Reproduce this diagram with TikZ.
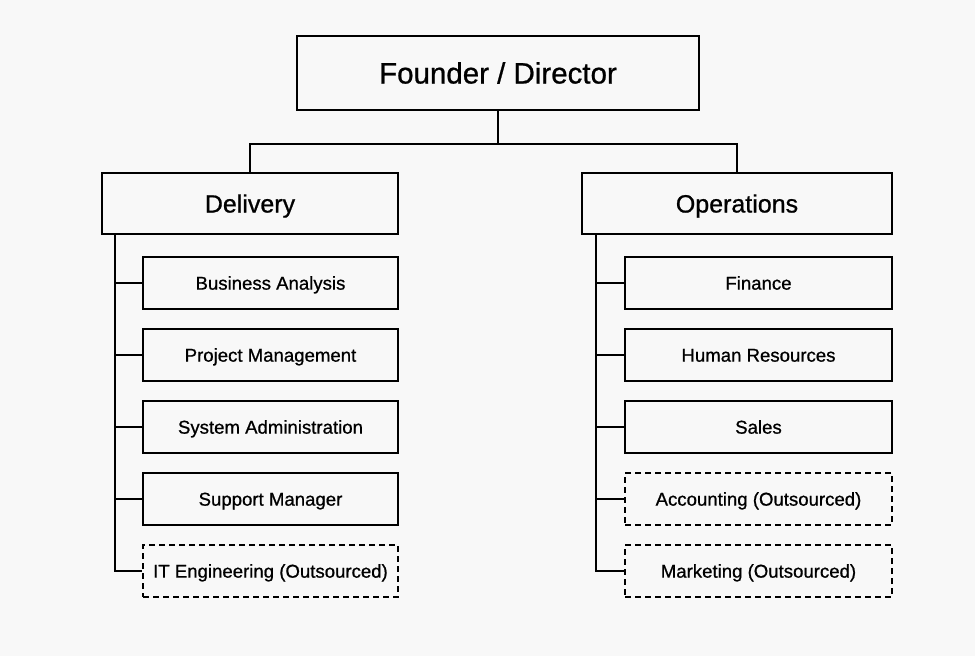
\documentclass[tikz,border=0pt]{standalone}
\usepackage{fontspec}
\setmainfont{Liberation Sans}[FakeBold=0.8]
\usetikzlibrary{calc}

\definecolor{paper}{HTML}{F8F8F8}

\tikzset{
  unit/.style={draw,rectangle,line width=2pt,fill=paper,inner sep=0pt,text depth=0pt},
  head/.style={unit,minimum width=402pt,minimum height=74pt,text height=21pt,
    font=\fontsize{29.5}{33}\selectfont},
  dept/.style={unit,minimum height=61pt,text height=18pt,font=\fontsize{25}{29}\selectfont},
  team/.style={unit,minimum height=52pt,text height=13.3pt,font=\fontsize{18.6}{22}\selectfont},
  outsourced/.style={team,dash pattern=on 6pt off 4pt},
  link/.style={line width=2pt}
}

\begin{document}
\begin{tikzpicture}[x=1pt,y=-1pt]
\fill[paper] (0,0) rectangle (975,656);

\draw node [head](founder) at (498,73){Founder / Director};
\draw node [dept,minimum width=296pt](delivery) at (250,203.5){Delivery};
\draw node [dept,minimum width=310pt](operations) at (737,203.5){Operations};

% split under the founder
\draw[link] (founder.south) -- ($ (founder.south) + (0,33)$) coordinate (split);
\draw[link] (delivery.north) |- (split) -| (operations.north);

% delivery teams
\draw node [team,minimum width=255pt](analysis) at (270.5,283){Business Analysis};
\draw node [team,minimum width=255pt](projects) at (270.5,355){Project Management};
\draw node [team,minimum width=255pt](sysadmin) at (270.5,427){System Administration};
\draw node [team,minimum width=255pt](support) at (270.5,499){Support Manager};
\draw node [outsourced,minimum width=255pt](iteng) at (270.5,571){IT Engineering (Outsourced)};

\coordinate (dspine) at ($ (delivery.south west) + (14,0)$);
\draw[link] (dspine) |- (iteng.west);
\foreach \t in {analysis,projects,sysadmin,support}
  \draw[link] (\t.west) -- (\t.west -| dspine);

% operations teams
\draw node [team,minimum width=267pt](finance) at (758.5,283){Finance};
\draw node [team,minimum width=267pt](hr) at (758.5,355){Human Resources};
\draw node [team,minimum width=267pt](sales) at (758.5,427){Sales};
\draw node [outsourced,minimum width=267pt](accounting) at (758.5,499){Accounting (Outsourced)};
\draw node [outsourced,minimum width=267pt](marketing) at (758.5,571){Marketing (Outsourced)};

\coordinate (ospine) at ($ (operations.south west) + (15,0)$);
\draw[link] (ospine) |- (marketing.west);
\foreach \t in {finance,hr,sales,accounting}
  \draw[link] (\t.west) -- (\t.west -| ospine);

\end{tikzpicture}
\end{document}
